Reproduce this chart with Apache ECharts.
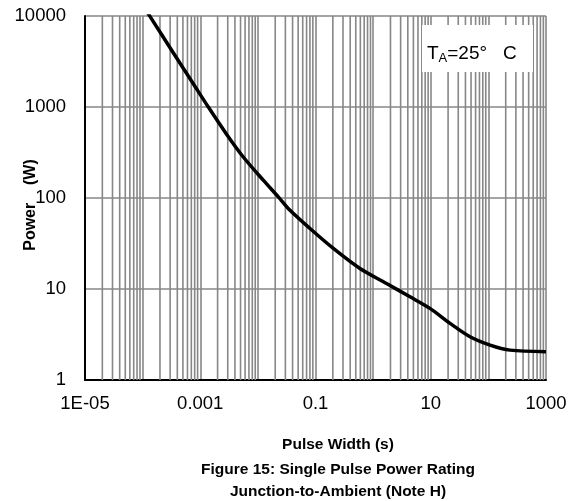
<!DOCTYPE html>
<html>
<head>
<meta charset="utf-8">
<style>
  html, body { margin: 0; padding: 0; background: #fff; }
  #chart { width: 575px; height: 501px; }
</style>
<script src="https://cdn.jsdelivr.net/npm/echarts@6/dist/echarts.min.js"></script>
</head>
<body>
<div id="chart"></div>
<script>
// Single pulse power rating curve (junction-to-ambient), T_A = 25 °C
const pulseWidth = [1.2e-4, 1.34e-4, 3.4e-4, 7.57e-4, 1.38e-3, 2.82e-3, 5.58e-3, 0.0124, 0.0226, 0.0354, 0.0803, 0.204, 0.591, 1.71, 4.36, 9.7, 21.6, 48, 107, 237, 1000];
const power      = [11100, 9900, 3950, 1800, 998, 509, 282, 157, 103, 74.3, 46.2, 27.9, 16.8, 11.5, 8.2, 6.12, 4.19, 2.99, 2.42, 2.13, 2.05];

// labelled decades on the pulse-width axis
const xLabelValues = [1e-5, 1e-3, 0.1, 10, 1000];
const xLabelTexts  = ['1E-05', '0.001', '0.1', '10', '1000'];
const yTickValues  = [1, 10, 100, 1000, 10000];

// minor grid multipliers inside every decade
const minorSteps = [2, 3, 4, 5, 6, 7, 8, 9];
const decadeExps = [-5, -4, -3, -2, -1, 0, 1, 2];

const FONT = 'Arial, "Liberation Sans", sans-serif';
const GRID_COLOR = '#878787';
const GRID_WIDTH = 1.6;

const minorValues = [];
decadeExps.forEach(e => minorSteps.forEach(m => minorValues.push(m * Math.pow(10, e))));

const yMin = yTickValues[0];
const yMax = yTickValues[yTickValues.length - 1];

const chart = echarts.init(document.getElementById('chart'), null, { renderer: 'canvas' });

chart.setOption({
  animation: false,
  grid: { left: 85, right: 29, top: 16, bottom: 121, containLabel: false },
  xAxis: {
    type: 'log',
    logBase: 10,
    min: 1e-5,
    max: 1000,
    interval: 1,
    axisLine: { show: true, onZero: false, lineStyle: { color: '#000', width: 2 } },
    axisTick: { show: false },
    axisLabel: {
      margin: 14,
      color: '#000',
      fontFamily: FONT,
      fontSize: 18.5,
      showMinLabel: true,
      showMaxLabel: true,
      formatter: v => {
        const e = Math.round(Math.log10(v));
        const i = xLabelValues.findIndex(x => Math.round(Math.log10(x)) === e);
        return i >= 0 ? xLabelTexts[i] : '';
      }
    },
    splitLine: { show: true, lineStyle: { color: GRID_COLOR, width: GRID_WIDTH } }
  },
  yAxis: {
    type: 'log',
    logBase: 10,
    min: yMin,
    max: yMax,
    interval: 1,
    axisLine: { show: true, onZero: false, lineStyle: { color: '#000', width: 2 } },
    axisTick: { show: false },
    axisLabel: {
      margin: 19,
      color: '#000',
      fontFamily: FONT,
      fontSize: 18.5,
      formatter: v => String(Math.round(v))
    },
    splitLine: { show: true, lineStyle: { color: GRID_COLOR, width: GRID_WIDTH } }
  },
  series: [
    {
      // minor vertical grid lines at 2..9 of each decade
      type: 'custom',
      z: 1,
      silent: true,
      clip: true,
      data: minorValues.map(v => [v, yMin]),
      encode: { x: 0, y: 1 },
      renderItem: (params, api) => {
        const v = api.value(0);
        const p1 = api.coord([v, yMin]);
        const p2 = api.coord([v, yMax]);
        return {
          type: 'line',
          shape: { x1: p1[0], y1: p1[1], x2: p2[0], y2: p2[1] },
          style: { stroke: GRID_COLOR, lineWidth: GRID_WIDTH }
        };
      }
    },
    {
      name: 'Power',
      type: 'line',
      z: 5,
      clip: true,
      smooth: 0.3,
      showSymbol: false,
      lineStyle: { color: '#000', width: 3.5 },
      data: pulseWidth.map((x, i) => [x, power[i]])
    }
  ],
  graphic: [
    {
      type: 'rect',
      z: 100,
      shape: { x: 422, y: 25, width: 111, height: 47 },
      style: { fill: '#fff' }
    },
    {
      type: 'text',
      z: 101,
      x: 427,
      y: 54,
      style: {
        text: 'T{sub|A}=25°   C',
        fill: '#000',
        font: '19px ' + FONT,
        verticalAlign: 'middle',
        rich: {
          sub: { fontSize: 13, fontFamily: FONT, fill: '#000', padding: [9, 0, 0, 0] }
        }
      }
    },
    {
      type: 'text',
      z: 101,
      x: 30.5,
      y: 205,
      rotation: Math.PI / 2,
      style: {
        text: 'Power    (W)',
        fill: '#000',
        font: 'bold 16px ' + FONT,
        align: 'center',
        verticalAlign: 'middle'
      }
    },
    {
      type: 'text',
      z: 101,
      x: 338,
      y: 445,
      style: { text: 'Pulse Width (s)', fill: '#000', font: 'bold 15.5px ' + FONT, align: 'center', verticalAlign: 'middle' }
    },
    {
      type: 'text',
      z: 101,
      x: 338,
      y: 470,
      style: { text: 'Figure 15: Single Pulse Power Rating', fill: '#000', font: 'bold 15.5px ' + FONT, align: 'center', verticalAlign: 'middle' }
    },
    {
      type: 'text',
      z: 101,
      x: 338,
      y: 492,
      style: { text: 'Junction-to-Ambient (Note H)', fill: '#000', font: 'bold 15.5px ' + FONT, align: 'center', verticalAlign: 'middle' }
    }
  ]
});
</script>
</body>
</html>
